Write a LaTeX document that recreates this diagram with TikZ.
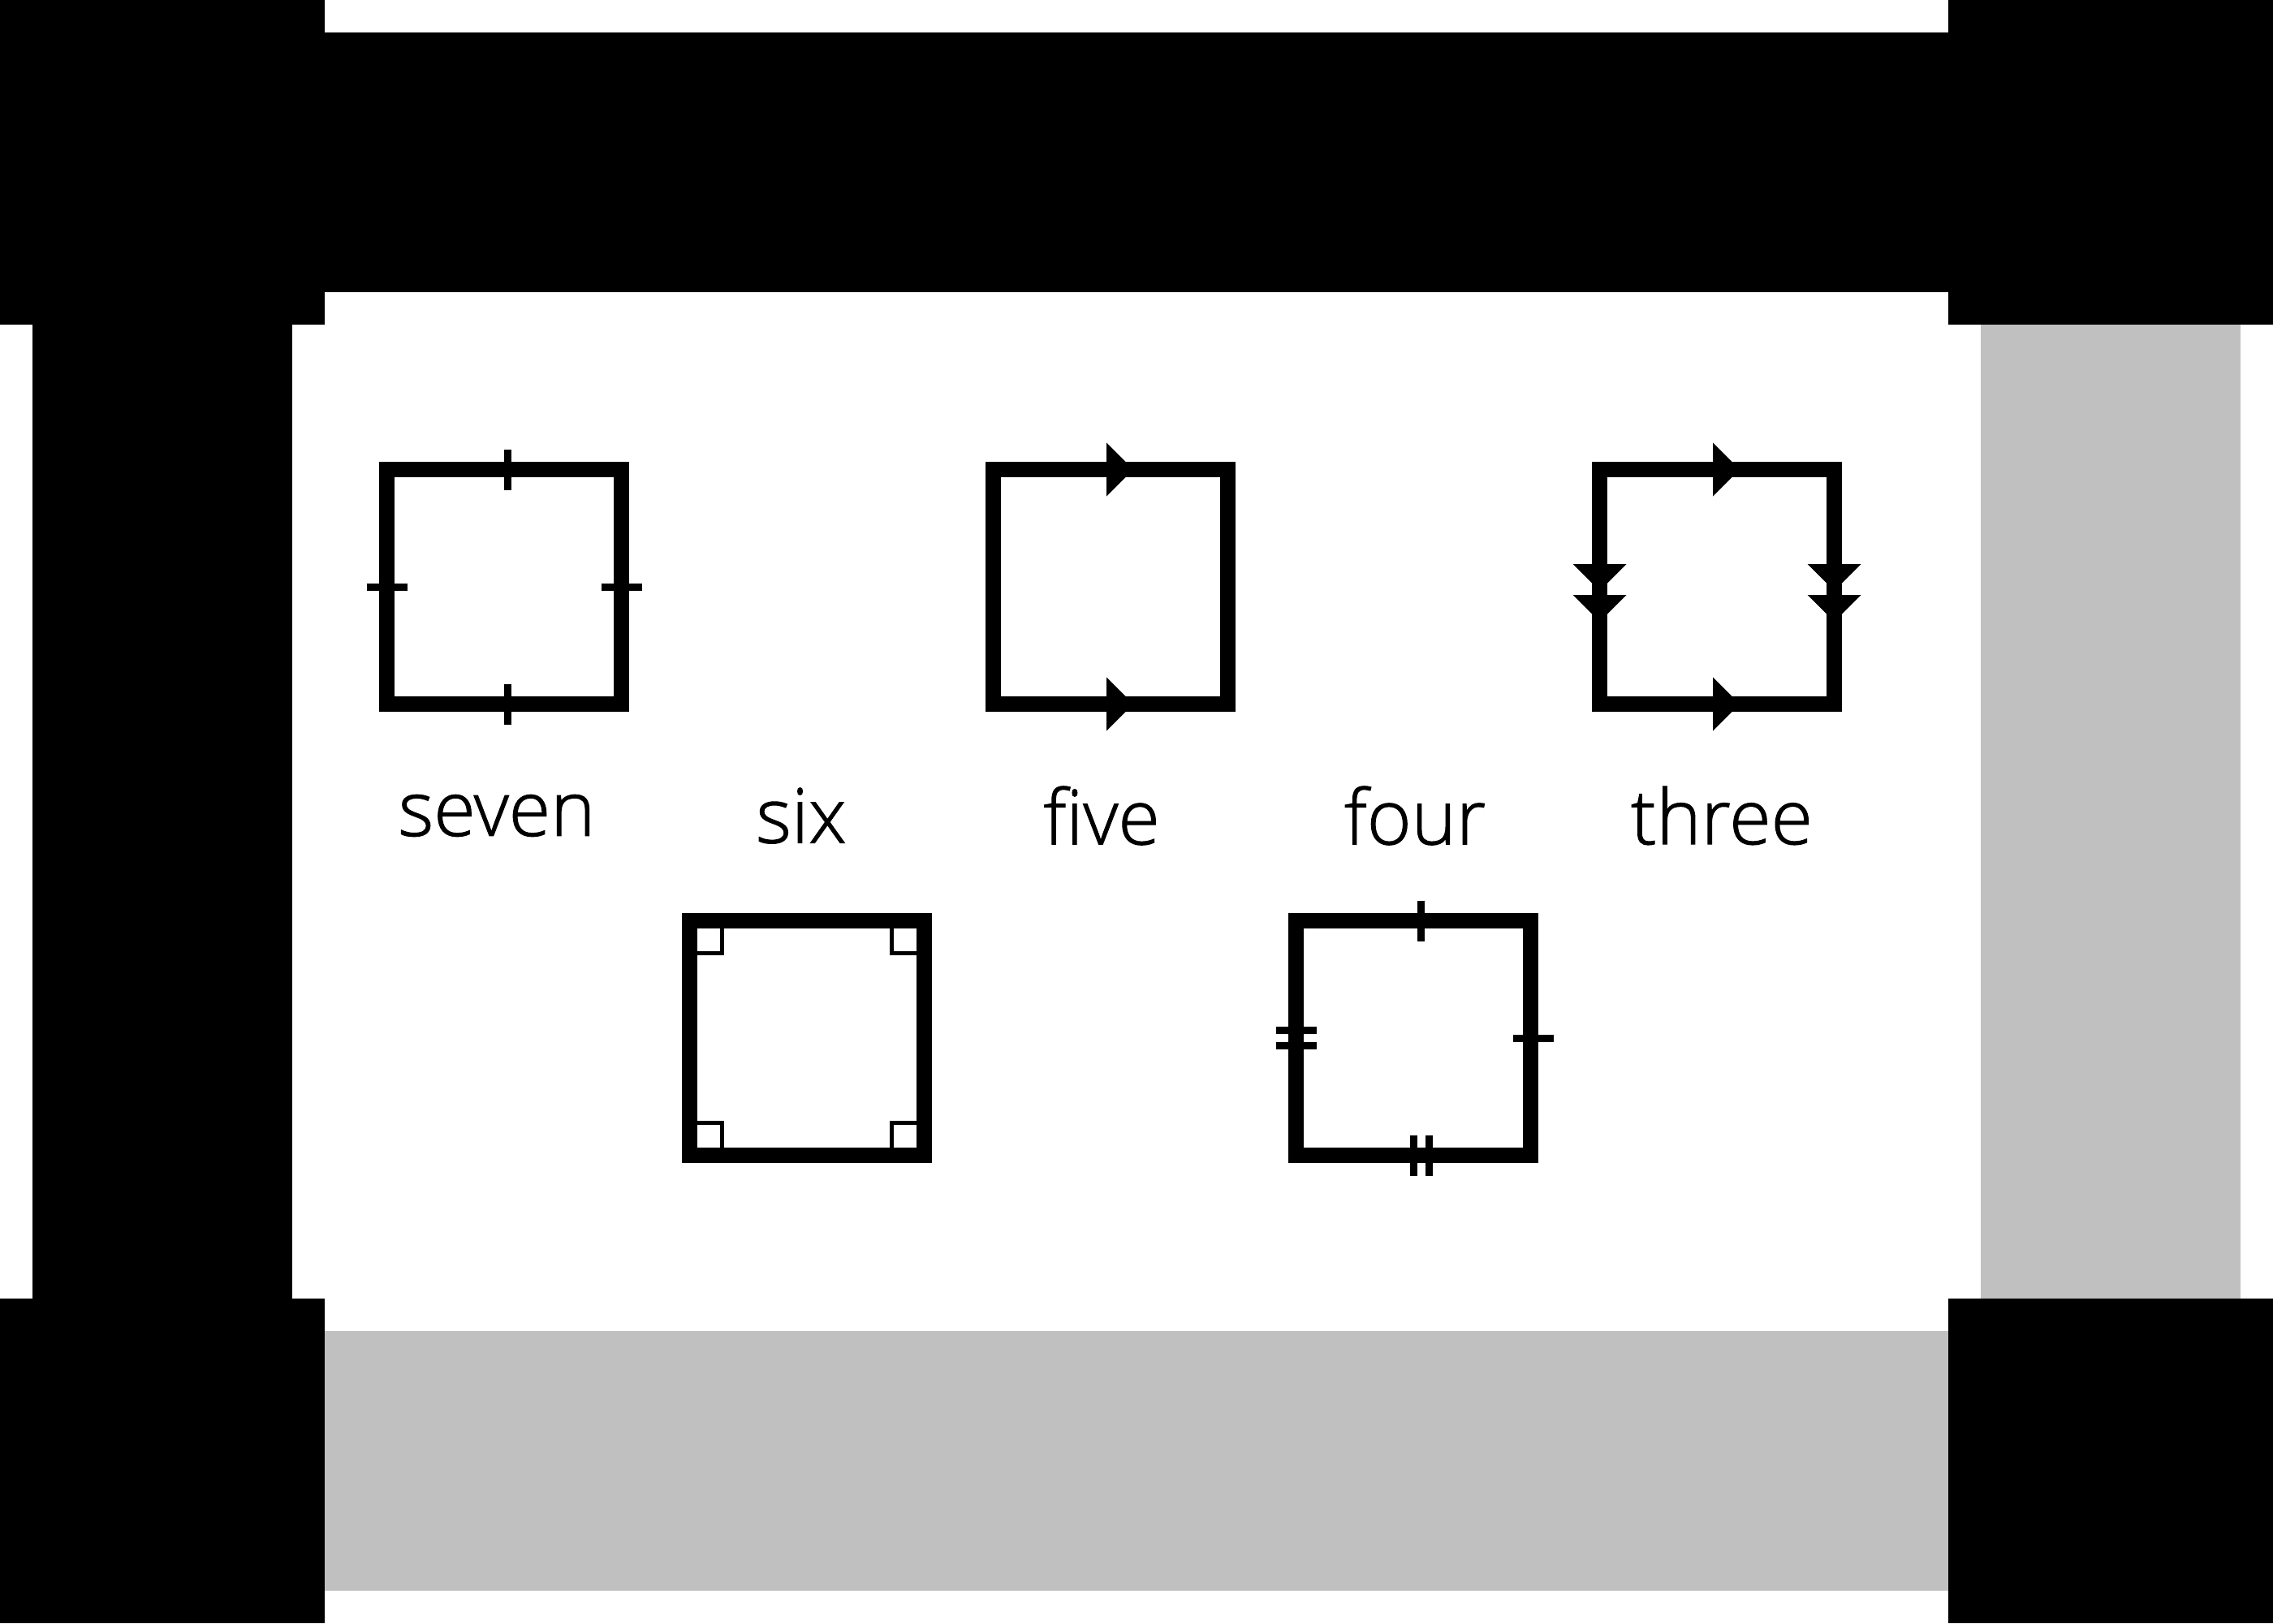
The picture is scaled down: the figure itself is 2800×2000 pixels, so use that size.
\documentclass[tikz,border=0pt]{standalone}
\usepackage{fontspec}
\setmainfont{Open Sans}[UprightFont={* Light}, UprightFeatures={FakeBold=1.2}]
\usepackage{tikz}
\definecolor{panelgray}{HTML}{C0C0C0}

\begin{document}
\begin{tikzpicture}[
		x=0.25pt,y=-0.25pt,
		sq/.style={
			draw=black,
			line width=4.75pt,
			rectangle,
			minimum size=72.25pt,
			inner sep=0pt,
			outer sep=0pt
		},
		lbl/.style={font=\fontsize{23.4pt}{28pt}\selectfont, inner sep=0pt},
		tick/.style={line width=2.25pt},
		rightmark/.style={line width=1.2pt}
		]
		\useasboundingbox (0,0) rectangle (2800,2000);
		
		% Frame
		\fill (400,40) rectangle (2400,360);
		\fill (40,400) rectangle (360,1600);
		\fill[panelgray] (2440,400) rectangle (2760,1600);
		\fill[panelgray] (400,1640) rectangle (2400,1960);
		\foreach \x/\y in {0/0, 2400/0, 0/1600, 2400/1600}
			\fill (\x,\y) rectangle ++(400,400);
		
		% Squares
		\node[sq] (seven) at (621,723) {};
		\node[sq] (five) at (1368,723) {};
		\node[sq] (three) at (2115,723) {};
		\node[sq] (six) at (994,1279) {};
		\node[sq] (four) at (1741,1279) {};
		
		% Labels
		\node[lbl] (sevenL) at (612,1005) {seven};
		\node[lbl] (sixL) at (987,1005) {six};
		\node[lbl] (fiveL) at (1357,1005) {five};
		\node[lbl] (fourL) at (1743,1005) {four};
		\node[lbl] (threeL) at (2121,1005) {three};
		
		% seven: one tick on every side
		\foreach \s in {north,south}
			\draw[tick] (seven.\s) ++(4,-25) -- ++(0,50);
		\foreach \s in {west,east}
			\draw[tick] (seven.\s) ++(-25,0) -- ++(50,0);
		
		% six: right angles in the corners
		\foreach \c/\dx/\dy in {north west/1/1, north east/-1/1, south west/1/-1, south east/-1/-1}
			\draw[rightmark] (six.\c) ++(40*\dx,0) -- ++(0,40*\dy) -- ++(-40*\dx,0);
		
		% five: arrows on top and bottom
		\foreach \s in {north,south}
			\fill (five.\s) ++(-5,-33) -- ++(33,33) -- ++(-33,33) -- cycle;
		
		% four: single and double ticks
		\draw[tick] (four.north) ++(9.5,-25) -- ++(0,50);
		\foreach \o in {0.5,19}
			\draw[tick] (four.south) ++(\o,-25) -- ++(0,50);
		\foreach \o in {-9.5,9.5}
			\draw[tick] (four.west) ++(-25,\o) -- ++(50,0);
		\draw[tick] (four.east) ++(-22,0) -- ++(50,0);
		
		% three: single arrows across, double arrows down
		\foreach \s in {north,south}
			\fill (three.\s) ++(-5,-33) -- ++(33,33) -- ++(-33,33) -- cycle;
		\foreach \s in {west,east}
			\foreach \d in {-28,10}
				\fill (three.\s) ++(-33,\d) -- ++(66,0) -- ++(-33,33) -- cycle;
	\end{tikzpicture}
\end{document}
